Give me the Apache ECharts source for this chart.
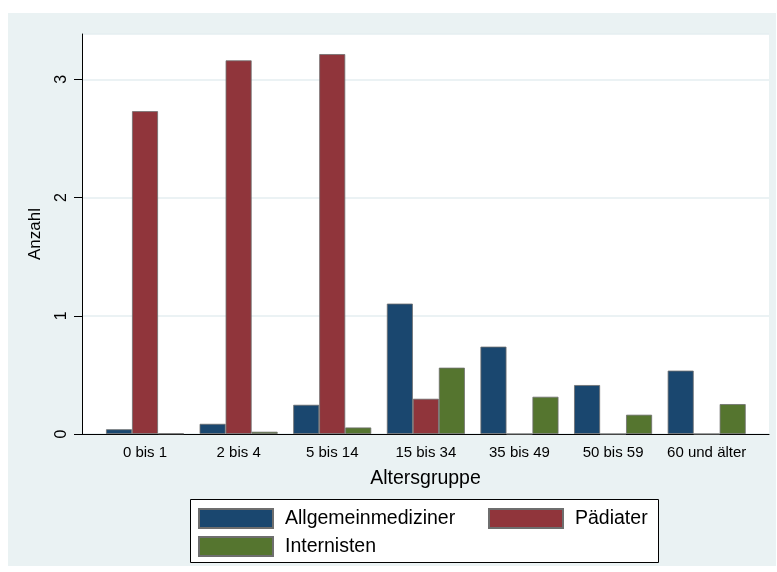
<!DOCTYPE html>
<html>
<head>
<meta charset="utf-8">
<script src="https://cdn.jsdelivr.net/npm/echarts@6/dist/echarts.min.js"></script>
<style>
  html, body { margin: 0; padding: 0; background: #ffffff; }
  #chart { width: 777px; height: 572px; }
</style>
</head>
<body>
<div id="chart"></div>
<script>
// Age groups on the category axis
const categories = ['0 bis 1', '2 bis 4', '5 bis 14', '15 bis 34', '35 bis 49', '50 bis 59', '60 und älter'];

// Average count per age group for each specialist type
const allgemeinmediziner = [0.04, 0.086, 0.247, 1.103, 0.739, 0.414, 0.536];
const paediater          = [2.731, 3.161, 3.214, 0.298, 0, 0, 0];
const internisten        = [0.005, 0.019, 0.055, 0.561, 0.315, 0.163, 0.253];

const yTicks = [0, 1, 2, 3];
const seriesNames = ['Allgemeinmediziner', 'Pädiater', 'Internisten'];
const seriesColors = ['#1a476f', '#90353b', '#55752f'];

const FONT = '"Liberation Sans", Arial, sans-serif';
const Y_MAX = 3.384;

const chart = echarts.init(document.getElementById('chart'), null, { renderer: 'canvas' });

function barSeries(name, data, color) {
  return {
    name: name,
    type: 'bar',
    xAxisIndex: 1,
    yAxisIndex: 1,
    data: data,
    barWidth: 26,
    barGap: '0%',
    itemStyle: { color: color, borderColor: '#6e6e6e', borderWidth: 0.8 },
    emphasis: { disabled: true },
    animation: false
  };
}

function legendFor(name, left, top) {
  return {
    data: [name],
    left: left,
    top: top,
    padding: 0,
    icon: 'rect',
    itemWidth: 74,
    itemHeight: 19,
    selectedMode: false,
    textStyle: { fontFamily: FONT, fontSize: 19.5, color: '#000', padding: [0, 0, 0, 7] }
  };
}

chart.setOption({
  backgroundColor: '#ffffff',
  animation: false,
  graphic: [
    { type: 'rect', z: -10, silent: true,
      shape: { x: 8, y: 13, width: 768, height: 553 },
      style: { fill: '#eaf2f3' } },
    { type: 'rect', z: 2, silent: true,
      shape: { x: 190.5, y: 499.5, width: 468, height: 63 },
      style: { fill: '#ffffff', stroke: '#000000', lineWidth: 1 } }
  ],
  grid: [
    // plot region: white area with axes and gridlines
    { left: 82, right: 8, top: 34, bottom: 138, show: true, backgroundColor: '#ffffff', borderWidth: 0 },
    // bar placement region
    { left: 98.2, right: 23.5, top: 34, bottom: 138 }
  ],
  xAxis: [
    { type: 'value', gridIndex: 0, min: 0, max: 1,
      axisLine: { show: true, onZero: false, lineStyle: { color: '#000', width: 1.2 } },
      axisTick: { show: false }, axisLabel: { show: false }, splitLine: { show: false },
      name: 'Altersgruppe', nameLocation: 'middle', nameGap: 35,
      nameTextStyle: { fontFamily: FONT, fontSize: 19.5, color: '#000' } },
    { type: 'category', gridIndex: 1, data: categories,
      axisLine: { show: false }, axisTick: { show: false },
      axisLabel: { fontFamily: FONT, fontSize: 15, color: '#000', margin: 11, interval: 0 } }
  ],
  yAxis: [
    { type: 'value', gridIndex: 0, min: 0, max: Y_MAX, interval: 1,
      axisLine: { show: true, lineStyle: { color: '#000', width: 1 } },
      axisTick: { show: true, length: 8, lineStyle: { color: '#000' } },
      axisLabel: { rotate: 90, margin: 12, fontFamily: FONT, fontSize: 16, color: '#000',
        showMaxLabel: false,
        formatter: v => (yTicks.indexOf(v) >= 0 ? String(v) : '') },
      splitLine: { show: true, lineStyle: { color: '#e4eef0', width: 1.5 } },
      name: 'Anzahl', nameLocation: 'middle', nameGap: 38, nameRotate: 90,
      nameTextStyle: { fontFamily: FONT, fontSize: 17, color: '#000' } },
    { type: 'value', gridIndex: 1, min: 0, max: Y_MAX, interval: 1, show: false,
      splitLine: { show: false } }
  ],
  legend: [
    legendFor(seriesNames[0], 198, 508),
    legendFor(seriesNames[1], 488, 508),
    legendFor(seriesNames[2], 198, 536)
  ],
  series: [
    barSeries(seriesNames[0], allgemeinmediziner, seriesColors[0]),
    barSeries(seriesNames[1], paediater, seriesColors[1]),
    barSeries(seriesNames[2], internisten, seriesColors[2])
  ]
});
</script>
</body>
</html>
